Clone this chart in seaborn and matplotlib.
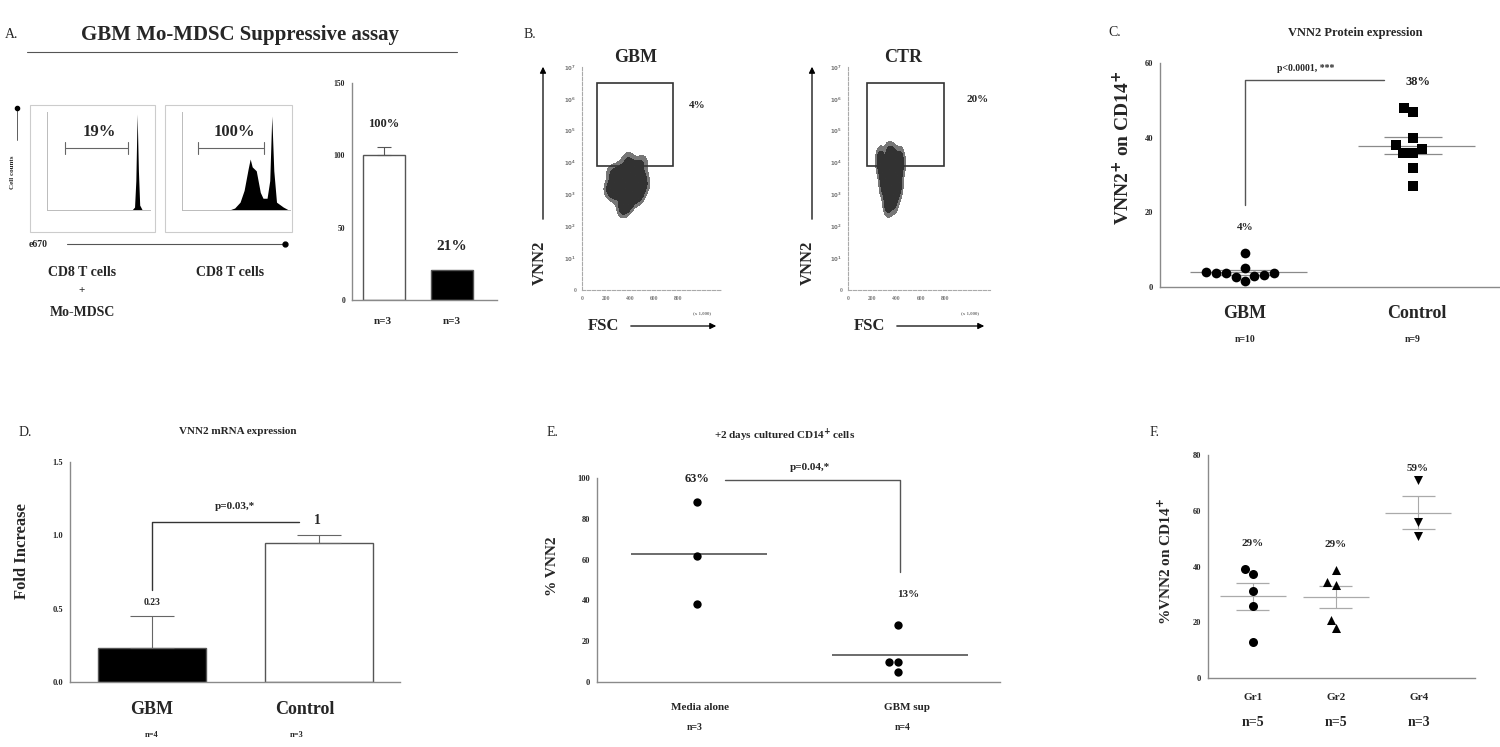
import numpy as np
import pandas as pd
import matplotlib
matplotlib.use('Agg')
import matplotlib.pyplot as plt
from matplotlib.patches import Rectangle, FancyArrowPatch
from matplotlib.lines import Line2D
from matplotlib.colors import LinearSegmentedColormap
import seaborn as sns

# ---------------- data ----------------
# A. suppression histograms (e670 dilution) and bar summary
h1_x = [6.6, 6.8, 6.9, 7.0, 7.1, 7.2, 7.4]
h1_y = [0, 3, 30, 98, 40, 5, 0]
h2_x = [3.5, 3.9, 4.3, 4.6, 4.9, 5.05, 5.2, 5.5, 5.8, 6.0, 6.3, 6.5, 6.65, 6.8, 7.0, 7.5, 7.9]
h2_y = [0, 2, 8, 20, 42, 52, 44, 40, 18, 12, 12, 30, 96, 40, 8, 3, 0]
a_cats = ['CD8 + MDSC', 'CD8']
a_vals = [100, 21]
a_sem = [6, 0]
a_n = ['n=3', 'n=3']

# B. flow dot plots (FSC vs VNN2), hand-read cloud points and gates
gbm_fsc = [260, 330, 400, 470, 500, 290, 360, 430, 480, 340, 400, 270, 230, 520, 380, 440, 320, 360, 470, 420, 350, 250, 500, 380]
gbm_vnn2 = [3.1, 3.5, 3.7, 3.4, 3.6, 3.0, 3.2, 3.9, 3.1, 2.7, 2.8, 3.4, 3.2, 3.3, 4.1, 3.6, 3.8, 3.4, 2.9, 3.1, 2.5, 3.7, 4.0, 2.7]
ctr_fsc = [270, 330, 390, 430, 280, 340, 400, 440, 290, 350, 410, 320, 380, 260, 420, 360, 330, 390, 300, 370]
ctr_vnn2 = [4.2, 4.3, 4.1, 4.2, 3.7, 3.8, 3.6, 3.9, 3.2, 3.3, 3.1, 2.8, 2.7, 4.0, 3.4, 4.3, 2.6, 3.7, 3.5, 3.0]
gbm_gate = [125, 758, 3.9, 6.5]
ctr_gate = [158, 792, 3.9, 6.5]

# C. VNN2 protein
c_gbm = [3.75, 3.75, 2.9, 5.1, 9.1, 1.6, 4.0, 2.7, 3.2, 3.75]
c_ctrl = [48, 47, 40, 36, 37, 38, 36, 32, 27]

# D. VNN2 mRNA
d_cats = ['GBM', 'Control']
d_vals = [0.23, 0.95]
d_sem = [0.22, 0.05]

# E. cultured CD14+ cells
e_media = [88, 62, 38]
e_sup = [28, 10, 10, 5]

# F. groups
f_gr1 = [39.0, 37.3, 31.2, 25.8, 13.0]
f_gr2 = [34.4, 38.7, 33.3, 20.8, 17.9]
f_gr4 = [71, 56, 51]

# ---------------- figure helpers ----------------
W, H = 1500, 747
sns.set_theme(style='white')
plt.rcParams['font.family'] = ['Liberation Serif', 'DejaVu Serif']
plt.rcParams['font.weight'] = 'bold'
plt.rcParams['axes.linewidth'] = 1.0

fig = plt.figure(figsize=(15, 7.47), dpi=100)
GRAY = '#8a8a8a'
cloud_cmap = LinearSegmentedColormap.from_list('cloud', ['#8a8a8a', '#000000'])


def px_axes(x0, y0, x1, y1):
    return fig.add_axes([x0 / W, 1 - y1 / H, (x1 - x0) / W, (y1 - y0) / H])


def ftext(x, y, s, size=8, weight='bold', **kw):
    kw.setdefault('ha', 'center')
    kw.setdefault('va', 'center')
    fig.text(x / W, 1 - y / H, s, fontsize=size, fontweight=weight, **kw)


def fline(xs, ys, **kw):
    kw.setdefault('color', 'black')
    kw.setdefault('lw', 1)
    fig.add_artist(Line2D([x / W for x in xs], [1 - y / H for y in ys],
                          transform=fig.transFigure, **kw))


def prism(ax, ticks, ylim, xlim, labsize=6):
    sns.despine(ax=ax)
    ax.set_xlim(*xlim)
    ax.set_ylim(*ylim)
    ax.set_yticks(ticks)
    ax.set_xticks([])
    ax.set_xlabel('')
    ax.set_ylabel('')
    for s in ['left', 'bottom']:
        ax.spines[s].set_color(GRAY)
        ax.spines[s].set_linewidth(1.0)
    ax.tick_params(axis='y', length=3, width=0.8, color=GRAY, labelsize=labsize, pad=2)
    for t in ax.get_yticklabels():
        t.set_fontweight('bold')


# ================= Panel A =================
ftext(12, 35, 'A.', size=10, weight='normal')
ftext(240, 35, 'GBM Mo-MDSC Suppressive assay', size=15)
fline([27, 457], [52, 52], color='#555555', lw=0.8)

for (ox0, ox1, ix0, ix1, hx, hy, gate, lab) in [
        (30, 155, 47, 150, h1_x, h1_y, (1.4, 6.3), '19%'),
        (165, 292, 182, 290, h2_x, h2_y, (1.2, 6.1), '100%')]:
    fig.add_artist(Rectangle((ox0 / W, 1 - 232 / H), (ox1 - ox0) / W, 127 / H,
                             transform=fig.transFigure, fill=False, ec='#cccccc', lw=0.8))
    ax = px_axes(ix0, 112, ix1, 210)
    ax.fill_between(hx, hy, color='black', lw=0)
    ax.set_xlim(0, 8)
    ax.set_ylim(0, 100)
    sns.despine(ax=ax)
    for s in ['left', 'bottom']:
        ax.spines[s].set_color('#bbbbbb')
        ax.spines[s].set_linewidth(0.7)
    ax.set_xticks(range(0, 9))
    ax.set_xticklabels(['' for _ in range(9)])
    ax.set_yticks(range(0, 101, 20))
    ax.set_yticklabels(['' for _ in range(6)])
    ax.tick_params(length=2, width=0.5, color='#bbbbbb')
    ax.set_facecolor('none')
    ax.plot([gate[0], gate[1]], [63, 63], color='#666666', lw=0.8)
    for g in gate:
        ax.plot([g, g], [57, 69], color='#666666', lw=0.8)
    ax.text((gate[0] + gate[1]) / 2 + 0.2, 80, lab, ha='center', va='center',
            fontsize=12, fontweight='bold')

ftext(12, 172, 'Cell counts', size=5, rotation=90)
fline([17, 17], [108, 140], color='#444444', lw=0.6)
fig.add_artist(Line2D([17 / W], [1 - 108 / H], marker='o', ms=3, color='black',
                      transform=fig.transFigure))
ftext(38, 244, 'e670', size=7)
fline([67, 285], [244, 244], color='#555555', lw=0.8)
fig.add_artist(Line2D([285 / W], [1 - 244 / H], marker='o', ms=3.5, color='black',
                      transform=fig.transFigure))
ftext(82, 272, 'CD8 T cells', size=10)
ftext(82, 291, '+', size=8)
ftext(82, 313, 'Mo-MDSC', size=10)
ftext(230, 272, 'CD8 T cells', size=10)

ax = px_axes(352, 83, 497, 300)
sns.barplot(x=a_cats, y=a_vals, hue=a_cats, palette=['white', 'black'], width=0.62,
            edgecolor='#555555', linewidth=1, legend=False, ax=ax)
ax.errorbar([0], [a_vals[0]], yerr=[[0], [a_sem[0]]], fmt='none', ecolor='#555555',
            capsize=5, elinewidth=0.8, capthick=0.8)
prism(ax, [0, 50, 100, 150], (0, 150), (-0.47, 1.66), labsize=5.5)
ax.text(0, 122, '100%', ha='center', va='center', fontsize=9, fontweight='bold')
ax.text(1, 37, '21%', ha='center', va='center', fontsize=11, fontweight='bold')
for i, n in enumerate(a_n):
    ftext(383 + 69 * i, 322, n, size=8)

# ================= Panel B =================
ftext(530, 35, 'B.', size=10, weight='normal')
tick_labs = ['0', '$10^1$', '$10^2$', '$10^3$', '$10^4$', '$10^5$', '$10^6$', '$10^7$']
for (x0, x1, fsc, vnn, gate, title, pct, pct_xy, ax_x, lab_x) in [
        (582, 722, gbm_fsc, gbm_vnn2, gbm_gate, 'GBM', '4%', (697, 105), 543, 540),
        (848, 990, ctr_fsc, ctr_vnn2, ctr_gate, 'CTR', '20%', (978, 100), 812, 808)]:
    ax = px_axes(x0, 67, x1, 290)
    flow = pd.DataFrame({'FSC': fsc, 'VNN2': vnn})
    sns.kdeplot(data=flow, x='FSC', y='VNN2', fill=True, cmap=cloud_cmap,
                levels=[0.07, 0.2, 1], bw_adjust=0.7, ax=ax)
    sns.scatterplot(data=flow, x='FSC', y='VNN2', s=3, color='#333333', lw=0, ax=ax)
    ax.add_patch(Rectangle((gate[0], gate[2]), gate[1] - gate[0], gate[3] - gate[2],
                           fill=False, ec='#333333', lw=1.2))
    ax.set_xlim(0, 1167)
    ax.set_ylim(0, 7)
    sns.despine(ax=ax)
    for s in ['left', 'bottom']:
        ax.spines[s].set_color('#aaaaaa')
        ax.spines[s].set_linestyle((0, (3, 1.5)))
        ax.spines[s].set_linewidth(0.8)
    ax.set_xticks([0, 200, 400, 600, 800])
    ax.set_xticklabels(['0', '200', '400', '600', '800'])
    ax.set_yticks(range(8))
    ax.set_yticklabels(tick_labs)
    ax.tick_params(length=2, width=0.5, color='#aaaaaa', labelsize=4, labelcolor='#777777', pad=2)
    ax.set_xlabel('')
    ax.set_ylabel('')
    ax.set_facecolor('none')
    ax.text(1000, -0.75, '(x 1,000)', fontsize=3.5, color='#777777', ha='center')
    ftext((x0 + x1) / 2 - 16, 58, title, size=13)
    ftext(pct_xy[0], pct_xy[1], pct, size=8)
    ftext(lab_x, 263, 'VNN2', size=12, rotation=90)
    ax_arrow = dict(arrowstyle='-|>', color='black', lw=0.9, mutation_scale=9)
    fig.add_artist(FancyArrowPatch(
        (ax_x / W, 1 - 222 / H), (ax_x / W, 1 - 64 / H), transform=fig.transFigure, **ax_arrow))
    ftext(x0 + 21, 326, 'FSC', size=12)
    fig.add_artist(FancyArrowPatch(
        ((x0 + 46) / W, 1 - 326 / H), ((x1 - 3) / W, 1 - 326 / H), transform=fig.transFigure, **ax_arrow))

# ================= Panel C =================
ftext(1115, 33, 'C.', size=10, weight='normal')
ftext(1355, 33, 'VNN2 Protein expression', size=9)
ax = px_axes(1160, 63, 1500, 287)
c_df = pd.DataFrame({'grp': ['GBM'] * len(c_gbm) + ['Control'] * len(c_ctrl),
                     'val': c_gbm + c_ctrl})
sns.swarmplot(data=c_df[c_df.grp == 'GBM'], x='grp', y='val', order=['GBM', 'Control'],
              color='black', size=7, marker='o', ax=ax)
sns.swarmplot(data=c_df[c_df.grp == 'Control'], x='grp', y='val', order=['GBM', 'Control'],
              color='black', size=7, marker='s', ax=ax)
for i, v in enumerate([c_gbm, c_ctrl]):
    m = np.mean(v)
    se = np.std(v, ddof=1) / np.sqrt(len(v))
    ax.hlines(m, i - 0.33, i + 0.37, color=GRAY, lw=0.9)
    ax.hlines([m - se, m + se], i - 0.17, i + 0.17, color=GRAY, lw=0.9)
prism(ax, [0, 20, 40, 60], (0, 60), (-0.506, 1.518))
ax.plot([0, 0, 0.83], [22, 55.5, 55.5], color='#555555', lw=1)
ax.text(0.36, 58.5, 'p<0.0001, ***', ha='center', va='center', fontsize=7, fontweight='bold')
ax.text(1.03, 55, '38%', ha='center', va='center', fontsize=9, fontweight='bold')
ax.text(0, 16, '4%', ha='center', va='center', fontsize=8, fontweight='bold')
ftext(1123, 148, 'VNN2$^{+}$ on CD14$^{+}$', size=14, rotation=90)
ftext(1245, 313, 'GBM', size=13)
ftext(1245, 340, 'n=10', size=7)
ftext(1417, 313, 'Control', size=13)
ftext(1413, 340, 'n=9', size=7)

# ================= Panel D =================
ftext(25, 432, 'D.', size=10, weight='normal')
ftext(238, 432, 'VNN2 mRNA expression', size=8)
ax = px_axes(70, 462, 400, 682)
sns.barplot(x=d_cats, y=d_vals, hue=d_cats, palette=['black', 'white'], width=0.65,
            edgecolor='#555555', linewidth=1, legend=False, ax=ax)
ax.errorbar([0, 1], d_vals, yerr=[[0, 0], d_sem], fmt='none', ecolor='#666666',
            capsize=16, elinewidth=0.8, capthick=0.8)
prism(ax, [0, 0.5, 1.0, 1.5], (0, 1.5), (-0.49, 1.485))
ax.set_yticklabels(['0.0', '0.5', '1.0', '1.5'])
ax.plot([0, 0, 0.88], [0.63, 1.09, 1.09], color='#333333', lw=1)
ax.text(0.5, 1.2, 'p=0.03,*', ha='center', va='center', fontsize=8, fontweight='bold')
ax.text(0.99, 1.1, '1', ha='center', va='center', fontsize=10, fontweight='bold')
ax.text(0, 0.54, '0.23', ha='center', va='center', fontsize=7, fontweight='bold')
ftext(22, 551, 'Fold Increase', size=12, rotation=90)
ftext(152, 710, 'GBM', size=13)
ftext(152, 735, 'n=4', size=6)
ftext(305, 710, 'Control', size=13)
ftext(297, 735, 'n=3', size=6)

# ================= Panel E =================
ftext(552, 432, 'E.', size=10, weight='normal')
ftext(785, 435, '+2 days cultured CD14$^{+}$ cells', size=8)
ax = px_axes(597, 478, 1000, 682)
e_df = pd.DataFrame({'grp': ['Media alone'] * len(e_media) + ['GBM sup'] * len(e_sup),
                     'val': e_media + e_sup})
sns.swarmplot(data=e_df, x='grp', y='val', order=['Media alone', 'GBM sup'],
              color='black', size=6, ax=ax)
for i, v in enumerate([e_media, e_sup]):
    ax.hlines(np.mean(v), i - 0.33, i + 0.35, color='#444444', lw=1.1)
prism(ax, [0, 20, 40, 60, 80, 100], (0, 100), (-0.5, 1.51))
ax.plot([0.14, 1.01, 1.01], [99, 99, 54], color='#555555', lw=1)
ax.text(0, 99.5, '63%', ha='center', va='center', fontsize=9, fontweight='bold')
ax.text(0.56, 105, 'p=0.04,*', ha='center', va='center', fontsize=8, fontweight='bold')
ax.text(1.05, 43, '13%', ha='center', va='center', fontsize=8, fontweight='bold')
ftext(553, 566, '% VNN2', size=11, rotation=90)
ftext(700, 708, 'Media alone', size=8)
ftext(695, 728, 'n=3', size=7)
ftext(907, 708, 'GBM sup', size=8)
ftext(903, 728, 'n=4', size=7)

# ================= Panel F =================
ftext(1155, 432, 'F.', size=10, weight='normal')
ax = px_axes(1208, 455, 1475, 678)
f_order = ['Gr1', 'Gr2', 'Gr4']
for grp, vals, mk in [('Gr1', f_gr1, 'o'), ('Gr2', f_gr2, '^'), ('Gr4', f_gr4, 'v')]:
    sns.swarmplot(x=[grp] * len(vals), y=vals, order=f_order, color='black',
                  size=6.5, marker=mk, ax=ax)
for i, v in enumerate([f_gr1, f_gr2, f_gr4]):
    m = np.mean(v)
    se = np.std(v, ddof=1) / np.sqrt(len(v))
    ax.hlines(m, i - 0.4, i + 0.4, color='#aaaaaa', lw=0.9)
    ax.hlines([m - se, m + se], i - 0.2, i + 0.2, color='#aaaaaa', lw=0.9)
    ax.vlines(i, m - se, m + se, color='#aaaaaa', lw=0.8)
    ax.text(i, m + 19 if i < 2 else 75, '%d%%' % round(m), ha='center', va='center',
            fontsize=8, fontweight='bold')
prism(ax, [0, 20, 40, 60, 80], (0, 80), (-0.545, 2.69))
ftext(1165, 562, '%VNN2 on CD14$^{+}$', size=11, rotation=90)
for i, (g, n) in enumerate(zip(f_order, ['n=5', 'n=5', 'n=3'])):
    ftext(1253 + 83 * i, 697, g, size=8)
    ftext(1253 + 83 * i, 722, n, size=10)

fig.savefig('out.png', dpi=100)
